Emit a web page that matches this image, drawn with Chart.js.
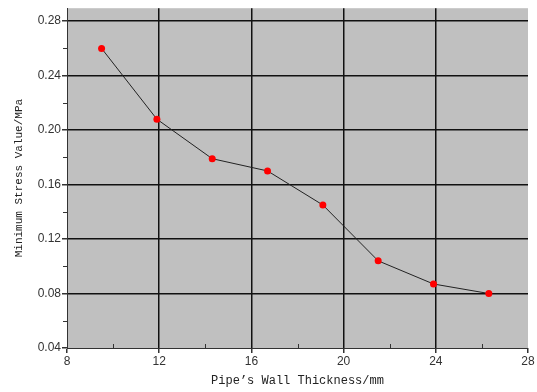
<!DOCTYPE html>
<html>
<head>
<meta charset="utf-8">
<script src="https://cdn.jsdelivr.net/npm/chart.js@4/dist/chart.umd.min.js"></script>
<style>
  html, body { margin: 0; padding: 0; background: #fff; }
  #wrap { width: 537px; height: 392px; }
</style>
</head>
<body>
<div id="wrap"><canvas id="myChart" width="537" height="392"></canvas></div>
<script>
// data
const thickness = [9.5, 11.9, 14.3, 16.7, 19.1, 21.5, 23.9, 26.3];
const minStress = [0.260, 0.208, 0.179, 0.170, 0.145, 0.104, 0.087, 0.080];

const xTicks = [8, 12, 16, 20, 24, 28];
const yTicks = [0.04, 0.08, 0.12, 0.16, 0.20, 0.24, 0.28];
const xMinor = [10, 14, 18, 22, 26];
const yMinor = [0.06, 0.10, 0.14, 0.18, 0.22, 0.26];

const xTitle = 'Pipe\u2019s Wall Thickness/mm';
const yTitle = 'Minimum Stress Value/MPa';

// grey plot background
const plotBg = {
  id: 'plotBg',
  beforeDraw(chart) {
    const a = chart.chartArea, c = chart.ctx;
    c.save();
    c.fillStyle = '#c0c0c0';
    c.fillRect(a.left, a.top, a.right - a.left, a.bottom - a.top);
    c.restore();
  }
};

// small minor ticks
const minorTicks = {
  id: 'minorTicks',
  afterDraw(chart) {
    const c = chart.ctx, x = chart.scales.x, y = chart.scales.y;
    c.save();
    c.strokeStyle = '#333';
    c.lineWidth = 1;
    c.beginPath();
    xMinor.forEach(v => {
      const px = Math.round(x.getPixelForValue(v)) + 0.5;
      c.moveTo(px, y.bottom);
      c.lineTo(px, y.bottom - 4);
    });
    yMinor.forEach(v => {
      const py = Math.round(y.getPixelForValue(v)) + 0.5;
      c.moveTo(x.left, py);
      c.lineTo(x.left - 4, py);
    });
    c.stroke();
    c.restore();
  }
};

const tickFont = { family: '"Liberation Sans", Arial, sans-serif', size: 12 };

new Chart(document.getElementById('myChart').getContext('2d'), {
  type: 'scatter',
  data: {
    datasets: [{
      data: thickness.map((t, i) => ({ x: t, y: minStress[i] })),
      showLine: true,
      borderColor: '#222',
      borderWidth: 1,
      pointRadius: 3.5,
      pointBackgroundColor: '#ff0000',
      pointBorderWidth: 0,
      tension: 0
    }]
  },
  options: {
    responsive: false,
    animation: false,
    layout: { padding: { top: 7, right: 9, left: 0, bottom: 0 } },
    plugins: { legend: { display: false }, tooltip: { enabled: false } },
    scales: {
      x: {
        type: 'linear',
        min: 8,
        max: 28,
        afterBuildTicks: s => { s.ticks = xTicks.map(v => ({ value: v })); },
        afterFit: s => { s.height = 44; },
        ticks: { font: tickFont, color: '#333', padding: 1, maxRotation: 0 },
        grid: {
          color: ctx => (ctx.tick && (ctx.tick.value === 8 || ctx.tick.value === 28)) ? 'rgba(0,0,0,0)' : '#111',
          tickColor: '#333',
          lineWidth: 1.5,
          tickLength: 5
        },
        border: { color: '#333', width: 1 },
        title: {
          display: true,
          text: xTitle,
          color: '#222',
          font: { family: '"Liberation Mono", "DejaVu Sans Mono", monospace', size: 12 },
          padding: { top: 0, bottom: 4 }
        }
      },
      y: {
        min: 0.04,
        max: 0.2895,
        afterBuildTicks: s => { s.ticks = yTicks.map(v => ({ value: v })); },
        afterFit: s => { s.width = 67; },
        ticks: {
          font: tickFont,
          color: '#333',
          padding: 1,
          callback: v => v.toFixed(2)
        },
        grid: {
          color: ctx => (ctx.tick && ctx.tick.value === 0.04) ? 'rgba(0,0,0,0)' : '#111',
          tickColor: '#333',
          lineWidth: 1.5,
          tickLength: 5
        },
        border: { color: '#333', width: 1 },
        title: {
          display: true,
          text: yTitle,
          color: '#222',
          font: { family: '"Liberation Mono", "DejaVu Sans Mono", monospace', size: 11 },
          padding: { top: 12, bottom: 0 }
        }
      }
    }
  },
  plugins: [plotBg, minorTicks]
});
</script>
</body>
</html>
